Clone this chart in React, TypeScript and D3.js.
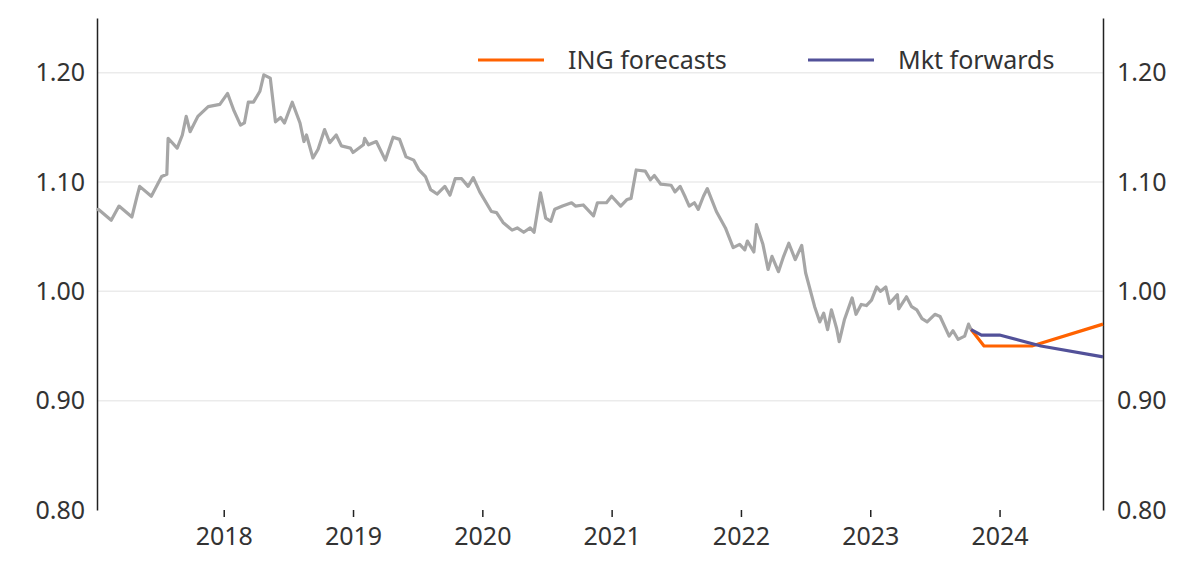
import * as d3 from "d3";
import { useEffect, useRef } from "react";

type Pt = [number, number]; // [decimal year, EUR/CHF]

const spot: Pt[] = [
  [2017.02, 1.074], [2017.03, 1.075], [2017.13, 1.065], [2017.19, 1.078], [2017.29, 1.068],
  [2017.33, 1.087], [2017.35, 1.096], [2017.44, 1.087], [2017.52, 1.105], [2017.56, 1.107],
  [2017.57, 1.14], [2017.64, 1.131], [2017.68, 1.143], [2017.71, 1.16], [2017.74, 1.146],
  [2017.8, 1.16], [2017.88, 1.169], [2017.97, 1.171], [2018.03, 1.181], [2018.08, 1.165],
  [2018.13, 1.152], [2018.16, 1.154], [2018.19, 1.173], [2018.23, 1.173], [2018.28, 1.183],
  [2018.31, 1.198], [2018.36, 1.195], [2018.4, 1.155], [2018.44, 1.159], [2018.47, 1.154],
  [2018.53, 1.173], [2018.59, 1.154], [2018.62, 1.137], [2018.64, 1.143], [2018.69, 1.122],
  [2018.73, 1.13], [2018.78, 1.148], [2018.82, 1.136], [2018.87, 1.143], [2018.91, 1.133],
  [2018.98, 1.131], [2019.0, 1.127], [2019.08, 1.134], [2019.09, 1.14], [2019.12, 1.134],
  [2019.18, 1.137], [2019.25, 1.12], [2019.31, 1.141], [2019.36, 1.139], [2019.41, 1.123],
  [2019.47, 1.12], [2019.51, 1.111], [2019.56, 1.105], [2019.6, 1.093], [2019.65, 1.089],
  [2019.71, 1.096], [2019.75, 1.088], [2019.79, 1.103], [2019.84, 1.103], [2019.89, 1.096],
  [2019.93, 1.104], [2019.98, 1.091], [2020.07, 1.073], [2020.11, 1.072], [2020.16, 1.063],
  [2020.23, 1.056], [2020.27, 1.058], [2020.32, 1.054], [2020.37, 1.058], [2020.4, 1.054],
  [2020.45, 1.09], [2020.49, 1.067], [2020.53, 1.064], [2020.56, 1.075], [2020.62, 1.078],
  [2020.69, 1.081], [2020.72, 1.078], [2020.78, 1.079], [2020.86, 1.069], [2020.89, 1.081],
  [2020.96, 1.081], [2021.0, 1.087], [2021.07, 1.078], [2021.12, 1.084], [2021.15, 1.085],
  [2021.19, 1.111], [2021.26, 1.11], [2021.3, 1.102], [2021.33, 1.106], [2021.38, 1.098],
  [2021.46, 1.097], [2021.49, 1.091], [2021.53, 1.096], [2021.57, 1.086], [2021.6, 1.078],
  [2021.64, 1.081], [2021.67, 1.075], [2021.71, 1.087], [2021.74, 1.094], [2021.81, 1.073],
  [2021.88, 1.058], [2021.94, 1.04], [2021.99, 1.043], [2022.03, 1.038], [2022.05, 1.046],
  [2022.1, 1.036], [2022.12, 1.061], [2022.17, 1.043], [2022.21, 1.02], [2022.24, 1.032],
  [2022.29, 1.018], [2022.33, 1.032], [2022.37, 1.044], [2022.42, 1.029], [2022.47, 1.042],
  [2022.5, 1.017], [2022.57, 0.986], [2022.61, 0.972], [2022.64, 0.98], [2022.67, 0.965],
  [2022.7, 0.983], [2022.74, 0.966], [2022.76, 0.954], [2022.8, 0.974], [2022.86, 0.994],
  [2022.89, 0.979], [2022.93, 0.988], [2022.97, 0.987], [2023.01, 0.992], [2023.05, 1.004],
  [2023.08, 1.0], [2023.12, 1.004], [2023.15, 0.989], [2023.21, 0.997], [2023.22, 0.984],
  [2023.28, 0.995], [2023.32, 0.986], [2023.36, 0.983], [2023.4, 0.975], [2023.44, 0.972],
  [2023.5, 0.979], [2023.54, 0.977], [2023.61, 0.959], [2023.64, 0.964], [2023.68, 0.956],
  [2023.73, 0.959], [2023.76, 0.97], [2023.78, 0.965],
];

const ingForecasts: Pt[] = [
  [2023.78, 0.965], [2023.88, 0.95], [2024.25, 0.95], [2024.8, 0.97],
];

const mktForwards: Pt[] = [
  [2023.78, 0.965], [2023.86, 0.96], [2024.0, 0.96], [2024.32, 0.95], [2024.8, 0.94],
];

const yearTicks = [2018, 2019, 2020, 2021, 2022, 2023, 2024];
const valueTicks = [0.8, 0.9, 1.0, 1.1, 1.2];

export default function App() {
  const ref = useRef<SVGSVGElement | null>(null);

  useEffect(() => {
    const el = ref.current;
    if (!el) return;
    const svg = d3.select(el);
    svg.selectAll("*").remove();

    const W = 1200;
    const H = 576;
    const margin = { top: 18, right: 97, bottom: 66, left: 97 };
    const iw = W - margin.left - margin.right;
    const ih = H - margin.top - margin.bottom;
    const font = "'Noto Sans', sans-serif";
    const textColor = "#333";

    const x = d3.scaleLinear().domain([2017.02, 2024.8]).range([0, iw]);
    const y = d3.scaleLinear().domain([0.8, 1.25]).range([ih, 0]);

    const g = svg.append("g").attr("transform", `translate(${margin.left},${margin.top})`);

    // gridlines
    g.selectAll("line.grid")
      .data(valueTicks.filter((v) => v > 0.8))
      .join("line")
      .attr("class", "grid")
      .attr("x1", 0)
      .attr("x2", iw)
      .attr("y1", (d) => y(d))
      .attr("y2", (d) => y(d))
      .attr("stroke", "#ebebeb")
      .attr("stroke-width", 1.5);

    const styleAxis = (ga: d3.Selection<SVGGElement, unknown, null, undefined>) => {
      ga.select(".domain").attr("stroke", "#222").attr("stroke-width", 1.5);
      ga.selectAll(".tick line").attr("stroke", "#222").attr("stroke-width", 1.5);
      ga.selectAll(".tick text")
        .attr("fill", textColor)
        .attr("font-size", 25)
        .attr("font-family", font);
    };

    g.append("g")
      .call(d3.axisLeft(y).tickValues(valueTicks).tickSize(0).tickPadding(12).tickFormat(d3.format(".2f")))
      .call(styleAxis);

    g.append("g")
      .attr("transform", `translate(${iw},0)`)
      .call(d3.axisRight(y).tickValues(valueTicks).tickSize(0).tickPadding(14).tickFormat(d3.format(".2f")))
      .call(styleAxis);

    g.append("g")
      .attr("transform", `translate(0,${ih})`)
      .call(d3.axisBottom(x).tickValues(yearTicks).tickSize(7).tickPadding(10).tickFormat(d3.format("d")))
      .call(styleAxis)
      .call((ga) => ga.select(".domain").remove());

    const line = d3
      .line<Pt>()
      .x((d) => x(d[0]))
      .y((d) => y(d[1]));

    const draw = (data: Pt[], color: string) =>
      g.append("path")
        .datum(data)
        .attr("fill", "none")
        .attr("stroke", color)
        .attr("stroke-width", 3.2)
        .attr("stroke-linejoin", "round")
        .attr("d", line);

    draw(spot, "#a6a6a6");
    draw(ingForecasts, "#ff6200");
    draw(mktForwards, "#525199");

    // legend
    const legend = [
      { label: "ING forecasts", color: "#ff6200", x0: 478 },
      { label: "Mkt forwards", color: "#525199", x0: 808 },
    ];
    const lg = svg.append("g");
    legend.forEach((l) => {
      lg.append("line")
        .attr("x1", l.x0)
        .attr("x2", l.x0 + 66)
        .attr("y1", 60)
        .attr("y2", 60)
        .attr("stroke", l.color)
        .attr("stroke-width", 3);
      lg.append("text")
        .attr("x", l.x0 + 90)
        .attr("y", 69)
        .attr("fill", textColor)
        .attr("font-size", 25)
        .attr("font-family", font)
        .text(l.label);
    });
  }, []);

  return (
    <svg
      ref={ref}
      width={1200}
      height={576}
      viewBox="0 0 1200 576"
      style={{ position: "absolute", left: 0, top: 0, background: "#fff" }}
    />
  );
}
